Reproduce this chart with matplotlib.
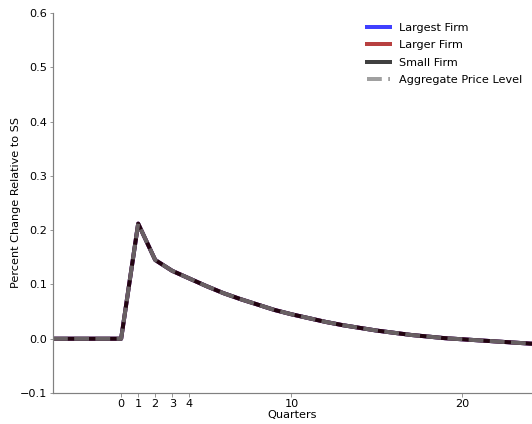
import matplotlib
matplotlib.use("Agg")
import matplotlib.pyplot as plt

# impulse response, quarters relative to the shock
quarters = list(range(-4, 26))
response = [0.0, 0.0, 0.0, 0.0, 0.0,
            0.212, 0.145, 0.125, 0.111, 0.097, 0.084, 0.073, 0.063, 0.053,
            0.045, 0.038, 0.031, 0.025, 0.020, 0.015, 0.011, 0.007, 0.004,
            0.001, -0.001, -0.003, -0.005, -0.007, -0.009, -0.010]

largest_firm = response
larger_firm = response
small_firm = response
price_level = response

xticks = [0, 1, 2, 3, 4, 10, 20]
yticks = [-0.1, 0.0, 0.1, 0.2, 0.3, 0.4, 0.5, 0.6]

plt.rcParams['font.size'] = 11.2

fig = plt.figure(figsize=(532 / 72, 424 / 72), dpi=72)
ax = fig.add_axes([53 / 532, 31 / 424, 479 / 532, 380 / 424])

ax.plot(quarters, largest_firm, color='blue', lw=4, alpha=0.75, label='Largest Firm')
ax.plot(quarters, larger_firm, color='#a00000', lw=4, alpha=0.75, label='Larger Firm')
ax.plot(quarters, small_firm, color='black', lw=4, alpha=0.75, label='Small Firm')
ax.plot(quarters, price_level, color='gray', lw=4, ls='--', alpha=0.75,
        label='Aggregate Price Level')

ax.set_xlim(-4, 24.12)
ax.set_ylim(-0.1, 0.6)
ax.set_xticks(xticks)
ax.set_yticks(yticks)
ax.set_xlabel('Quarters', labelpad=1)
ax.set_ylabel('Percent Change Relative to SS', labelpad=-1)

for side in ['top', 'right']:
    ax.spines[side].set_visible(False)
for side in ['left', 'bottom']:
    ax.spines[side].set_color('gray')
    ax.spines[side].set_linewidth(1.2)
ax.tick_params(color='gray', pad=2.5)

ax.legend(frameon=False, loc='upper right', bbox_to_anchor=(1.0, 1.0),
          labelspacing=0.65)

fig.savefig('out.png', dpi=72)
